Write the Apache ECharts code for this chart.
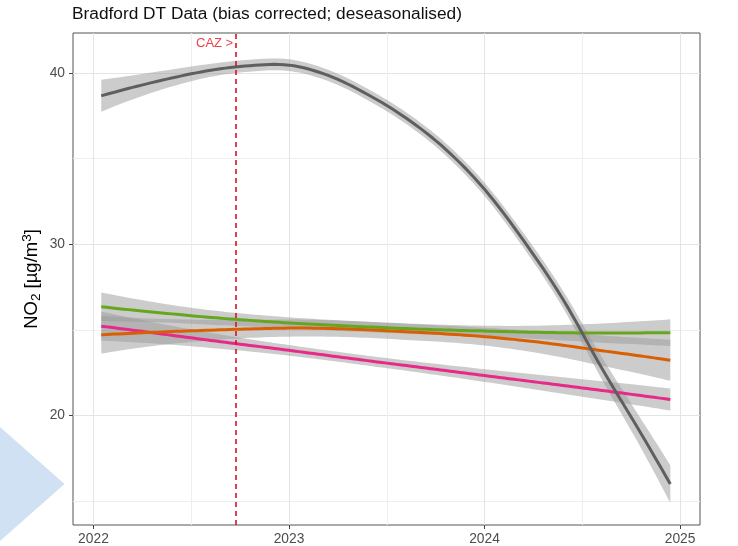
<!DOCTYPE html>
<html>
<head>
<meta charset="utf-8">
<script src="https://cdn.jsdelivr.net/npm/echarts@6/dist/echarts.min.js"></script>
<style>
  html, body { margin: 0; padding: 0; background: #ffffff; }
  #chart { width: 738px; height: 546px; }
</style>
</head>
<body>
<div id="chart"></div>
<script>
// Decimal-year positions of the smoothed trend samples
const years = [2022.04, 2022.2, 2022.4, 2022.6, 2022.8, 2023.0, 2023.2, 2023.4,
               2023.6, 2023.8, 2024.0, 2024.2, 2024.4, 2024.6, 2024.8, 2024.95];

// Site A (grey) fitted NO2 and confidence band
const greyFit   = [38.66, 39.15, 39.7, 40.15, 40.42, 40.45, 39.85, 38.75, 37.35, 35.55, 33.2, 30.2, 26.8, 22.75, 18.95, 16.0];
const greyLower = [37.73, 38.45, 39.2, 39.77, 40.07, 40.11, 39.52, 38.42, 37.01, 35.19, 32.81, 29.77, 26.3, 22.1, 18.1, 14.9];
const greyUpper = [39.59, 39.85, 40.2, 40.53, 40.77, 40.79, 40.18, 39.08, 37.69, 35.91, 33.59, 30.63, 27.3, 23.4, 19.8, 17.1];

// Site B (green)
const greenFit   = [26.35, 26.15, 25.93, 25.72, 25.55, 25.4, 25.28, 25.17, 25.07, 24.99, 24.93, 24.87, 24.83, 24.81, 24.82, 24.83];
const greenLower = [25.52, 25.47, 25.41, 25.3, 25.19, 25.07, 24.97, 24.87, 24.77, 24.69, 24.62, 24.51, 24.38, 24.25, 24.14, 24.05];
const greenUpper = [27.18, 26.83, 26.45, 26.14, 25.91, 25.73, 25.59, 25.47, 25.37, 25.29, 25.24, 25.23, 25.28, 25.37, 25.5, 25.61];

// Site C (orange)
const orangeFit   = [24.71, 24.8, 24.9, 24.98, 25.05, 25.1, 25.08, 25.0, 24.88, 24.76, 24.6, 24.38, 24.1, 23.78, 23.47, 23.22];
const orangeLower = [23.61, 23.9, 24.18, 24.38, 24.53, 24.6, 24.6, 24.53, 24.41, 24.28, 24.08, 23.78, 23.38, 22.9, 22.42, 22.02];
const orangeUpper = [25.81, 25.7, 25.62, 25.58, 25.57, 25.6, 25.56, 25.47, 25.35, 25.24, 25.12, 24.98, 24.82, 24.66, 24.52, 24.42];

// Site D (pink)
const pinkFit   = [25.21, 24.98, 24.68, 24.38, 24.09, 23.8, 23.5, 23.2, 22.91, 22.62, 22.33, 22.04, 21.75, 21.46, 21.16, 20.93];
const pinkLower = [24.36, 24.28, 24.13, 23.94, 23.73, 23.49, 23.21, 22.91, 22.61, 22.29, 21.96, 21.62, 21.27, 20.92, 20.56, 20.29];
const pinkUpper = [26.06, 25.68, 25.23, 24.82, 24.45, 24.11, 23.79, 23.49, 23.21, 22.95, 22.7, 22.46, 22.23, 22.0, 21.76, 21.57];

// Clean Air Zone start and its annotation height
const cazYear = 2022.73;
const cazLabelY = 41.74;
const cazText = 'CAZ >';

// Axis ticks
const xTicks = [2022, 2023, 2024, 2025];
const xMinorTicks = [2022.5, 2023.5, 2024.5];
const yTicks = [20, 30, 40];
const yMinorTicks = [15, 25, 35];
const xRange = [2021.8954, 2025.1018];
const yRange = [13.605, 42.326];

const titleText = 'Bradford DT Data (bias corrected; deseasonalised)';

const FONT = '"Liberation Sans", Arial, Helvetica, sans-serif';
const BAND_FILL = 'rgba(153,153,153,0.5)';

// Catmull-Rom smoothing of projected pixel points, so curves bend gently
function smoothPath(pts, seg) {
  const out = [];
  const n = pts.length;
  for (let i = 0; i < n - 1; i++) {
    const p0 = pts[Math.max(i - 1, 0)], p1 = pts[i], p2 = pts[i + 1], p3 = pts[Math.min(i + 2, n - 1)];
    for (let k = 0; k < seg; k++) {
      const t = k / seg, t2 = t * t, t3 = t2 * t;
      const c = d => 0.5 * (2 * p1[d] + (-p0[d] + p2[d]) * t +
        (2 * p0[d] - 5 * p1[d] + 4 * p2[d] - p3[d]) * t2 +
        (-p0[d] + 3 * p1[d] - 3 * p2[d] + p3[d]) * t3);
      out.push([c(0), c(1)]);
    }
  }
  out.push(pts[n - 1]);
  return out;
}

function project(api, vals) {
  return years.map((x, i) => api.coord([x, vals[i]]));
}

function bandSeries(name, lo, hi) {
  return {
    type: 'custom',
    name: name,
    xAxisIndex: 0,
    yAxisIndex: 0,
    silent: true,
    clip: true,
    z: 2,
    data: years.map((x, i) => [x, lo[i], hi[i]]),
    encode: { x: 0, y: [1, 2] },
    renderItem: function (params, api) {
      if (params.dataIndex !== 0) return null;
      const top = smoothPath(project(api, hi), 8);
      const bottom = smoothPath(project(api, lo), 8).reverse();
      return { type: 'polygon', shape: { points: top.concat(bottom) }, style: { fill: BAND_FILL } };
    }
  };
}

function lineSeries(name, vals, color, z) {
  return {
    type: 'custom',
    name: name,
    xAxisIndex: 0,
    yAxisIndex: 0,
    silent: true,
    clip: true,
    z: z,
    data: years.map((x, i) => [x, vals[i]]),
    encode: { x: 0, y: 1 },
    renderItem: function (params, api) {
      if (params.dataIndex !== 0) return null;
      return {
        type: 'polyline',
        shape: { points: smoothPath(project(api, vals), 8) },
        style: { stroke: color, lineWidth: 3, fill: null, lineJoin: 'round', lineCap: 'butt' }
      };
    }
  };
}

const chart = echarts.init(document.getElementById('chart'), null, { renderer: 'canvas' });

chart.setOption({
  animation: false,
  backgroundColor: '#ffffff',
  textStyle: { fontFamily: FONT },
  title: {
    text: titleText,
    left: 72,
    top: 6,
    padding: 0,
    textStyle: { fontFamily: FONT, fontSize: 17.3, fontWeight: 'normal', color: '#111111' }
  },
  graphic: [{
    type: 'polygon',
    silent: true,
    z: -1,
    shape: { points: [[0, 427], [64.5, 484], [0, 541]] },
    style: { fill: '#cfe1f2' }
  }],
  grid: {
    left: 73, right: 38, top: 33, bottom: 19,
    show: true,
    backgroundColor: '#ffffff',
    borderColor: '#555555',
    borderWidth: 1
  },
  xAxis: [
    {
      type: 'value', min: xRange[0], max: xRange[1],
      axisLine: { show: false },
      axisTick: { show: true, customValues: xTicks, length: 4, lineStyle: { color: '#444444', width: 1 } },
      axisLabel: { customValues: xTicks, formatter: v => String(Math.round(v)), fontSize: 13.8, color: '#4d4d4d', margin: 7, fontFamily: FONT },
      splitLine: { show: true, lineStyle: { color: '#e4e4e4', width: 1 } }
    },
    {
      type: 'value', min: xRange[0], max: xRange[1], position: 'top',
      axisLine: { show: false },
      axisTick: { show: false, customValues: xMinorTicks },
      axisLabel: { show: false, customValues: xMinorTicks },
      splitLine: { show: true, lineStyle: { color: '#eeeeee', width: 1 } }
    }
  ],
  yAxis: [
    {
      type: 'value', min: yRange[0], max: yRange[1],
      axisLine: { show: false },
      axisTick: { show: true, customValues: yTicks, length: 4, lineStyle: { color: '#444444', width: 1 } },
      axisLabel: { customValues: yTicks, fontSize: 13.8, color: '#4d4d4d', margin: 8, fontFamily: FONT },
      splitLine: { show: true, lineStyle: { color: '#e4e4e4', width: 1 } },
      name: '{n|NO}{s|2}{n| [µg/m}{p|3}{n|]}',
      nameLocation: 'middle',
      nameGap: 30,
      nameMoveOverlap: false,
      nameTextStyle: {
        fontFamily: FONT,
        rich: {
          n: { fontSize: 18.5, lineHeight: 23, color: '#000000', fontFamily: FONT },
          s: { fontSize: 13.5, lineHeight: 13, verticalAlign: 'bottom', color: '#000000', fontFamily: FONT },
          p: { fontSize: 13.5, lineHeight: 13, verticalAlign: 'top', color: '#000000', fontFamily: FONT }
        }
      }
    },
    {
      type: 'value', min: yRange[0], max: yRange[1], position: 'right',
      axisLine: { show: false },
      axisTick: { show: false, customValues: yMinorTicks },
      axisLabel: { show: false, customValues: yMinorTicks },
      splitLine: { show: true, lineStyle: { color: '#eeeeee', width: 1 } }
    }
  ],
  series: [
    bandSeries('green band', greenLower, greenUpper),
    bandSeries('orange band', orangeLower, orangeUpper),
    bandSeries('pink band', pinkLower, pinkUpper),
    lineSeries('pink', pinkFit, '#e7298a', 3),
    lineSeries('orange', orangeFit, '#d95f02', 3),
    lineSeries('green', greenFit, '#66a61e', 3),
    bandSeries('grey band', greyLower, greyUpper),
    lineSeries('grey', greyFit, '#5f5f5f', 4),
    {
      type: 'scatter',
      name: 'CAZ',
      xAxisIndex: 0,
      yAxisIndex: 0,
      silent: true,
      z: 6,
      data: [[cazYear, cazLabelY]],
      symbolSize: 0,
      label: {
        show: true, position: 'left', distance: 3,
        formatter: cazText, color: '#e8101e', fontSize: 13, fontFamily: FONT
      },
      markLine: {
        silent: true,
        symbol: 'none',
        label: { show: false },
        lineStyle: { color: '#d41424', type: [5, 4], width: 1.6 },
        data: [{ xAxis: cazYear }]
      }
    }
  ]
});
</script>
</body>
</html>
